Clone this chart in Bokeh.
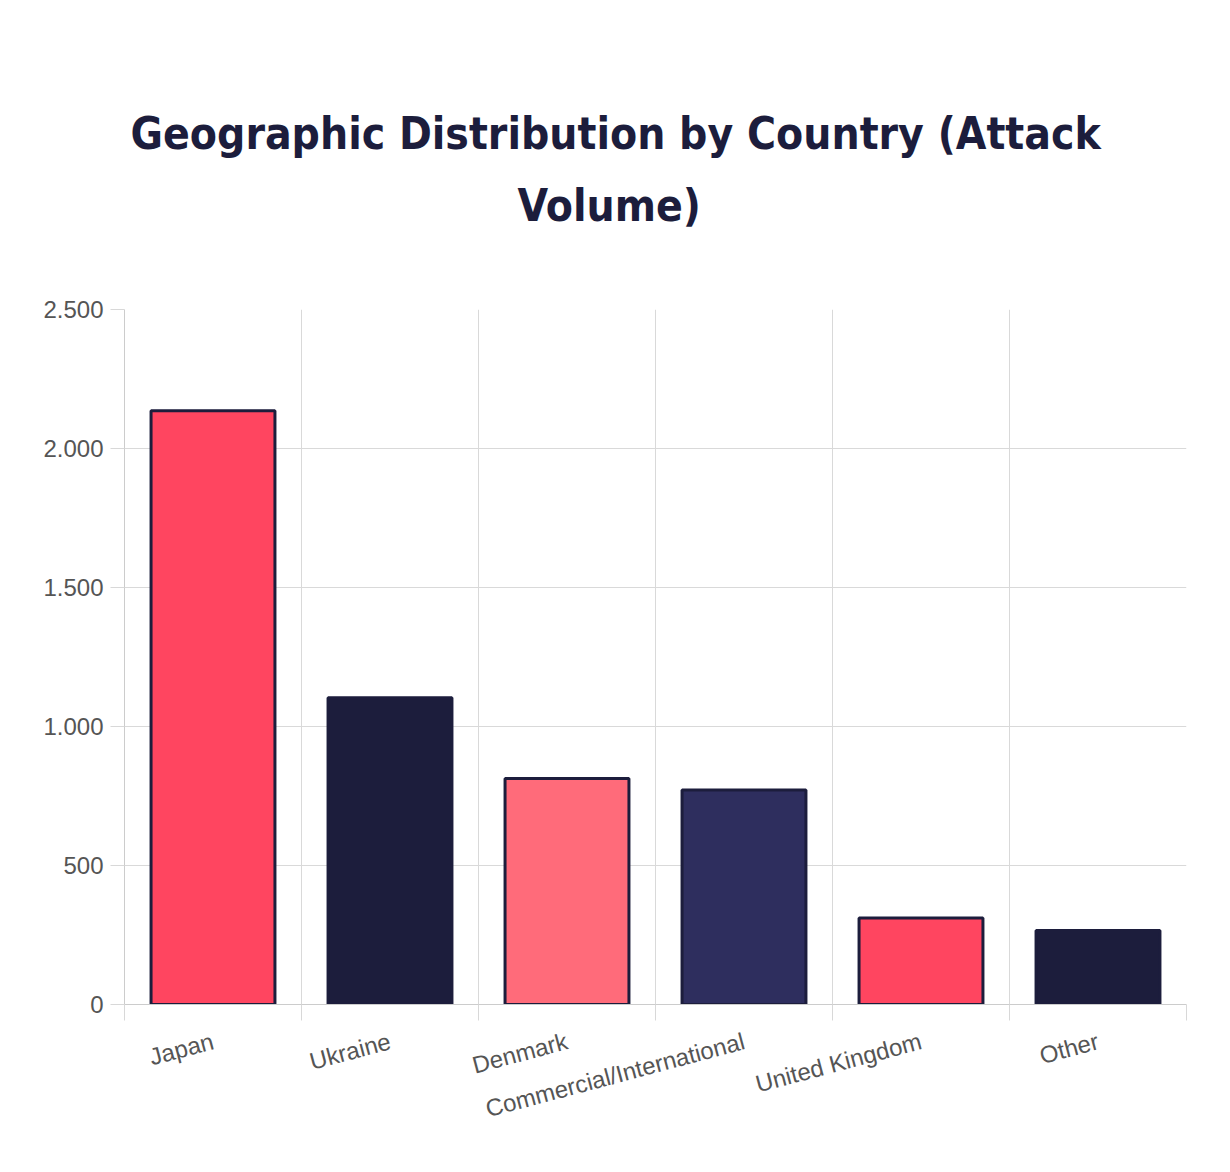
from bokeh.plotting import figure
from bokeh.models import Range1d, FixedTicker, Title
from bokeh.embed import file_html
from bokeh.resources import INLINE

countries = ["Japan", "Ukraine", "Denmark", "Commercial/International", "United Kingdom", "Other"]
attacks = [2136, 1103, 813, 772, 311, 266]
bar_colors = ["#FF4560", "#1C1D3C", "#FF6B7A", "#2E2E5E", "#FF4560", "#1C1D3C"]
y_ticks = [0, 500, 1000, 1500, 2000, 2500]
y_tick_labels = ["0", "500", "1.000", "1.500", "2.000", "2.500"]
title_line1 = "Geographic Distribution by Country (Attack"
title_line2 = "Volume)"

n = len(countries)
centers = [i + 0.5 for i in range(n)]
bounds = list(range(n + 1))

p = figure(width=1230, height=1172, output_backend="svg", toolbar_location=None,
           x_range=Range1d(0, n), y_range=Range1d(0, y_ticks[-1]),
           min_border_left=124, min_border_right=44, min_border_top=309, min_border_bottom=168,
           background_fill_color="white", border_fill_color="white")
p.outline_line_color = None

p.vbar(x=centers, top=attacks, width=0.7, bottom=0, fill_color=bar_colors,
       line_color="#1C1D3C", line_width=3)

# axes
xa = p.xaxis[0]
xa.ticker = FixedTicker(ticks=centers, minor_ticks=bounds)
xa.major_label_overrides = {c: name for c, name in zip(centers, countries)}
xa.major_tick_line_color = None
xa.major_tick_out = 0
xa.major_tick_in = 0
xa.minor_tick_out = 16
xa.minor_tick_in = 0
xa.minor_tick_line_color = "#d8d8d8"
xa.axis_line_color = "#cccccc"
xa.major_label_orientation = 0.26
xa.major_label_standoff = 20
xa.major_label_text_font = "Liberation Sans"
xa.major_label_text_font_size = "24px"
xa.major_label_text_color = "#555555"

ya = p.yaxis[0]
ya.ticker = FixedTicker(ticks=y_ticks)
ya.major_label_overrides = {t: l for t, l in zip(y_ticks, y_tick_labels)}
ya.major_tick_out = 14
ya.major_tick_in = 0
ya.major_tick_line_color = "#d8d8d8"
ya.minor_tick_line_color = None
ya.axis_line_color = "#cccccc"
ya.major_label_standoff = 7
ya.major_label_text_font = "Liberation Sans"
ya.major_label_text_font_size = "24px"
ya.major_label_text_color = "#555555"

p.xgrid.ticker = FixedTicker(ticks=bounds)
p.xgrid.grid_line_color = "#d9d9d9"
p.ygrid.ticker = FixedTicker(ticks=y_ticks)
p.ygrid.grid_line_color = "#d9d9d9"

# titles (closest first)
p.add_layout(Title(text=" ", text_font_size="10px", standoff=52), "above")
p.add_layout(Title(text=title_line2, align="left", offset=393, text_font="DejaVu Sans Condensed",
                   text_font_style="bold", text_font_size="44px", text_color="#1C1D3C", standoff=28), "above")
p.add_layout(Title(text=title_line1, align="left", offset=6, text_font="DejaVu Sans Condensed",
                   text_font_style="bold", text_font_size="44px", text_color="#1C1D3C", standoff=10), "above")

open("out.html", "w").write(file_html(p, INLINE))
